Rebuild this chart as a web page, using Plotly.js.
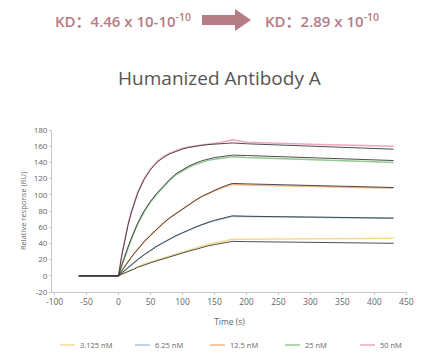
<!DOCTYPE html>
<html>
<head>
<meta charset="utf-8">
<script src="https://cdn.plot.ly/plotly-3.0.1.min.js"></script>
<style>html,body{margin:0;padding:0;background:#fff;}#chart{width:439px;height:362px;}</style>
</head>
<body>
<div id="chart"></div>
<script>
// Time points (s)
const timeS = [-62, 0, 5, 10, 15, 20, 25, 30, 40, 50, 60, 70, 80, 90, 100, 110, 120, 130, 140, 150, 160, 170, 178, 200, 250, 300, 350, 400, 430];

const seriesNames = ["3.125 nM", "6.25 nM", "12.5 nM", "25 nM", "50 nM"];
const seriesColors = ["#f2dc94", "#a9c6e6", "#f7b57c", "#94c994", "#f2a6bb"];

// Measured responses (RU)
const data3125 = [0, 0, 2, 4, 5.5, 7.5, 9, 11, 14.5, 17, 19.5, 22, 24.5, 27, 29.5, 32, 34.5, 37, 39, 40.5, 42, 43.5, 45, 45, 45.3, 45.6, 45.9, 46.3, 46.5];
const data625  = [0, 0, 3.5, 7, 10.5, 14, 17, 20, 26, 31.5, 36.5, 41, 45.5, 49.5, 53, 57, 60, 63, 66, 68, 70, 71.8, 73.5, 73.2, 72.7, 72.2, 71.8, 71.4, 71.2];
const data125  = [0, 0, 6, 12, 17.5, 23, 28, 33, 42, 50, 58, 65, 71.5, 77, 83, 88, 93, 97.5, 101.5, 105, 108, 111, 113, 112, 111, 110, 109.5, 108.8, 108.5];
const data25   = [0, 0, 12.5, 24, 35, 45, 55, 64, 79, 91, 101, 110, 118, 125, 130, 134, 137.5, 140.5, 142.5, 144, 145, 146.5, 147, 146, 144.5, 143, 142, 140.8, 140];
const data50   = [0, 0, 25, 47, 64, 79, 92, 103, 120, 132, 141, 147, 151.5, 155, 157.5, 159, 160.5, 161.5, 162.5, 163.5, 164.5, 166.5, 168, 165, 163.5, 162.5, 161.5, 160.5, 160];

// Fitted curves (RU)
const fit3125 = [0, 0, 2, 3.5, 5, 7, 8.5, 10.5, 13.5, 16, 18.5, 21, 23.5, 25.5, 28, 30.5, 32.5, 35, 37, 38.5, 40, 41.5, 42.5, 42.2, 41.7, 41.2, 40.8, 40.3, 40.1];
const fit625  = [0, 0, 3.5, 7, 10.5, 14, 17, 20, 26, 31.5, 36.5, 41, 45.5, 49.5, 53, 57, 60, 63, 66, 68.5, 70.5, 72, 74, 73.5, 73, 72.5, 72, 71.5, 71.2];
const fit125  = [0, 0, 6, 12, 17.5, 23, 28, 33, 42, 50, 58, 65, 71.5, 77, 83, 88, 93, 98, 102, 106, 109, 112, 114, 113.5, 112.5, 111.5, 110.5, 109.5, 109];
const fit25   = [0, 0, 13, 25, 36, 46, 56, 65, 80, 92, 102, 111, 119, 126, 131, 135.5, 139, 142, 144, 146, 147, 148.5, 149, 148.5, 147, 145.5, 144.5, 143.3, 142.3];
const fit50   = [0, 0, 25, 46, 63, 78, 91, 102, 119, 131, 140, 146, 150.5, 154, 156.5, 158.5, 160, 161, 162, 162.5, 163, 163.5, 164, 163, 161.5, 160, 158.5, 157, 156.3];

const dataSets = [data3125, data625, data125, data25, data50];
const fitSets = [fit3125, fit625, fit125, fit25, fit50];

const xTicks = [-100, -50, 0, 50, 100, 150, 200, 250, 300, 350, 400, 450];
const yTicks = [-20, 0, 20, 40, 60, 80, 100, 120, 140, 160, 180];

const kdBefore = "KD：4.46 x 10-10<sup>-10</sup>";
const kdAfter = "KD：2.89 x 10<sup>-10</sup>";
const chartTitle = "Humanized Antibody A";

const traces = [];
dataSets.forEach((d, i) => {
  traces.push({
    x: timeS, y: d, type: "scatter", mode: "lines", name: seriesNames[i],
    line: {color: seriesColors[i], width: 1.5}, showlegend: true
  });
});
fitSets.forEach((d, i) => {
  traces.push({
    x: timeS, y: d, type: "scatter", mode: "lines", name: seriesNames[i] + " fit",
    line: {color: "#3a3a3a", width: 0.9}, showlegend: false
  });
});

const txtColor = "#b67b82";
const layout = {
  width: 439, height: 362,
  margin: {l: 52, r: 32, t: 130, b: 70, autoexpand: false},
  paper_bgcolor: "#fff", plot_bgcolor: "#fff",
  font: {family: "Open Sans, Noto Sans, sans-serif", color: "#666", size: 8},
  title: {text: chartTitle, x: 0.5, xanchor: "center", y: 1 - 78/362, yanchor: "middle",
          font: {size: 19, color: "#555", family: "Open Sans, Noto Sans, sans-serif"}},
  xaxis: {range: [-104, 451], tickvals: xTicks, ticktext: xTicks.map(String),
          showgrid: false, zeroline: false, showline: true, linecolor: "#c8c8c8", linewidth: 1,
          ticks: "outside", ticklen: 2, tickcolor: "#c8c8c8",
          tickfont: {size: 8.5, color: "#666"},
          title: {text: "Time (s)", font: {size: 8.5, color: "#666"}, standoff: 12}},
  yaxis: {range: [-20, 180], tickvals: yTicks, ticktext: yTicks.map(String),
          showgrid: false, zeroline: false, showline: true, linecolor: "#c8c8c8", linewidth: 1,
          ticks: "outside", ticklen: 2, tickcolor: "#c8c8c8",
          tickfont: {size: 8, color: "#666"},
          title: {text: "Relative response (RU)", font: {size: 7.5, color: "#666"}, standoff: 6}},
  legend: {orientation: "h", x: (40-52)/355, xanchor: "left", y: (292-345)/162, yanchor: "middle",
           font: {size: 7.5, color: "#666"}, entrywidth: 30, entrywidthmode: "pixels", traceorder: "normal"},
  annotations: [
    {text: kdBefore, xref: "paper", yref: "paper", x: (123-52)/355, y: (292-20)/162,
     xanchor: "center", yanchor: "middle", showarrow: false,
     font: {size: 15, color: txtColor, family: "Open Sans, Noto Sans CJK SC, sans-serif", weight: 600}},
    {text: kdAfter, xref: "paper", yref: "paper", x: (322-52)/355, y: (292-20)/162,
     xanchor: "center", yanchor: "middle", showarrow: false,
     font: {size: 15, color: txtColor, family: "Open Sans, Noto Sans CJK SC, sans-serif", weight: 600}}
  ],
  shapes: [
    {type: "path", xref: "paper", yref: "paper", fillcolor: "#b77d84", line: {width: 0},
     path: (function(){
       const px = v => ((v-52)/355).toFixed(4);
       const py = v => ((292-v)/162).toFixed(4);
       return `M${px(202)},${py(15)} L${px(235)},${py(15)} L${px(235)},${py(9)} L${px(251)},${py(20)} L${px(235)},${py(31)} L${px(235)},${py(25)} L${px(202)},${py(25)} Z`;
     })()}
  ]
};

Plotly.newPlot("chart", traces, layout, {displayModeBar: false, staticPlot: true}).then(() => {
  document.querySelectorAll("#chart .legendlines path").forEach(p => p.setAttribute("d", "M20,0h15"));
});
</script>
</body>
</html>
